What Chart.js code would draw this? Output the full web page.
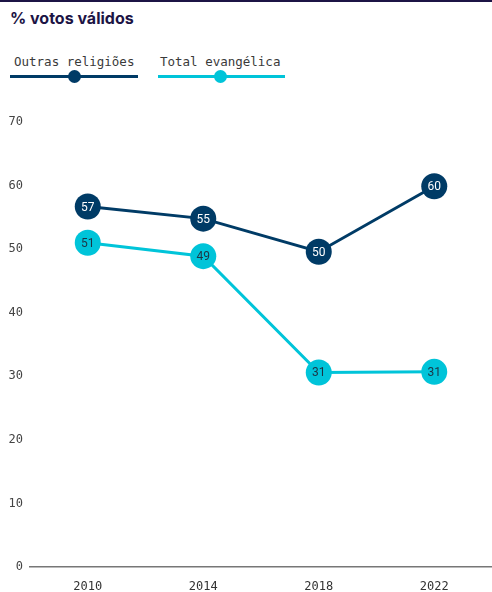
<!DOCTYPE html>
<html>
<head>
<meta charset="utf-8">
<script src="https://cdn.jsdelivr.net/npm/chart.js@4.4.1/dist/chart.umd.min.js"></script>
<style>
  html, body { margin: 0; padding: 0; background: #fff; }
  body { width: 492px; height: 592px; position: relative; overflow: hidden; border-top: 2px solid #1c1445; box-sizing: border-box; }
  .title { position: absolute; left: 10px; top: 6px; font: 700 16px "Inter", sans-serif; color: #1c1445; }
  .legend { position: absolute; top: 52px; left: 0; font: 12.5px "DejaVu Sans Mono", monospace; color: #3a3a3a; }
  .item { position: absolute; top: 0; }
  .item span { position: absolute; top: 0; white-space: nowrap; }
  .item .bar { position: absolute; top: 21px; height: 3px; }
  .item .dot { position: absolute; top: 16px; width: 13px; height: 13px; border-radius: 50%; }
  .wrap { position: absolute; left: 0; top: 100px; width: 492px; height: 492px; }
</style>
</head>
<body>
<div class="title">% votos válidos</div>
<div class="legend">
  <div class="item" style="left:10px">
    <span style="left:4px">Outras religiões</span>
    <div class="bar" style="left:0;width:128px;background:#003b66"></div>
    <div class="dot" style="left:58px;background:#003b66"></div>
  </div>
  <div class="item" style="left:158px">
    <span style="left:2px">Total evangélica</span>
    <div class="bar" style="left:0;width:127px;background:#00c4d9"></div>
    <div class="dot" style="left:56px;background:#00c4d9"></div>
  </div>
</div>
<div class="wrap"><canvas id="c"></canvas></div>
<script>
const years = ['2010', '2014', '2018', '2022'];
const outras = [56.7, 54.8, 49.6, 59.9];
const evangelica = [51.0, 48.9, 30.6, 30.7];
const yTicks = [0, 10, 20, 30, 40, 50, 60, 70];

const NAVY = '#003b66';
const CYAN = '#00c4d9';
const MONO = '"DejaVu Sans Mono", monospace';

// writes the rounded value inside each point
const pointLabels = {
  id: 'pointLabels',
  afterDatasetsDraw(chart) {
    const ctx = chart.ctx;
    chart.data.datasets.forEach((ds, i) => {
      chart.getDatasetMeta(i).data.forEach((pt, j) => {
        ctx.save();
        ctx.font = '12px Roboto, sans-serif';
        ctx.fillStyle = ds.labelColor;
        ctx.textAlign = 'center';
        ctx.textBaseline = 'middle';
        ctx.fillText(Math.round(ds.data[j]), pt.x, pt.y + 1);
        ctx.restore();
      });
    });
  }
};

new Chart(document.getElementById('c'), {
  type: 'line',
  data: {
    labels: years,
    datasets: [
      { label: 'Outras religiões', data: outras, borderColor: NAVY, backgroundColor: NAVY,
        labelColor: '#ffffff', borderWidth: 3, pointRadius: 13, pointHoverRadius: 13, pointBorderWidth: 0 },
      { label: 'Total evangélica', data: evangelica, borderColor: CYAN, backgroundColor: CYAN,
        labelColor: '#1d3344', borderWidth: 3, pointRadius: 13, pointHoverRadius: 13, pointBorderWidth: 0 }
    ]
  },
  options: {
    responsive: true,
    maintainAspectRatio: false,
    animation: false,
    layout: { autoPadding: false, padding: { top: 20, left: 8, right: -3, bottom: 0 } },
    plugins: { legend: { display: false }, tooltip: { enabled: false } },
    scales: {
      x: {
        offset: true,
        afterFit(s) { s.height = 27; },
        grid: { display: false, drawTicks: false },
        border: { display: true, color: '#777', width: 1.5 },
        ticks: { font: { family: MONO, size: 12 }, color: '#333', padding: 13 }
      },
      y: {
        min: 0, max: 70,
        afterFit(s) { s.width = 22; },
        afterBuildTicks(axis) { axis.ticks = yTicks.map(v => ({ value: v })); },
        grid: { display: false, drawTicks: false },
        border: { display: false },
        ticks: { font: { family: MONO, size: 12 }, color: '#444', padding: 7 }
      }
    }
  },
  plugins: [pointLabels]
});
</script>
</body>
</html>
